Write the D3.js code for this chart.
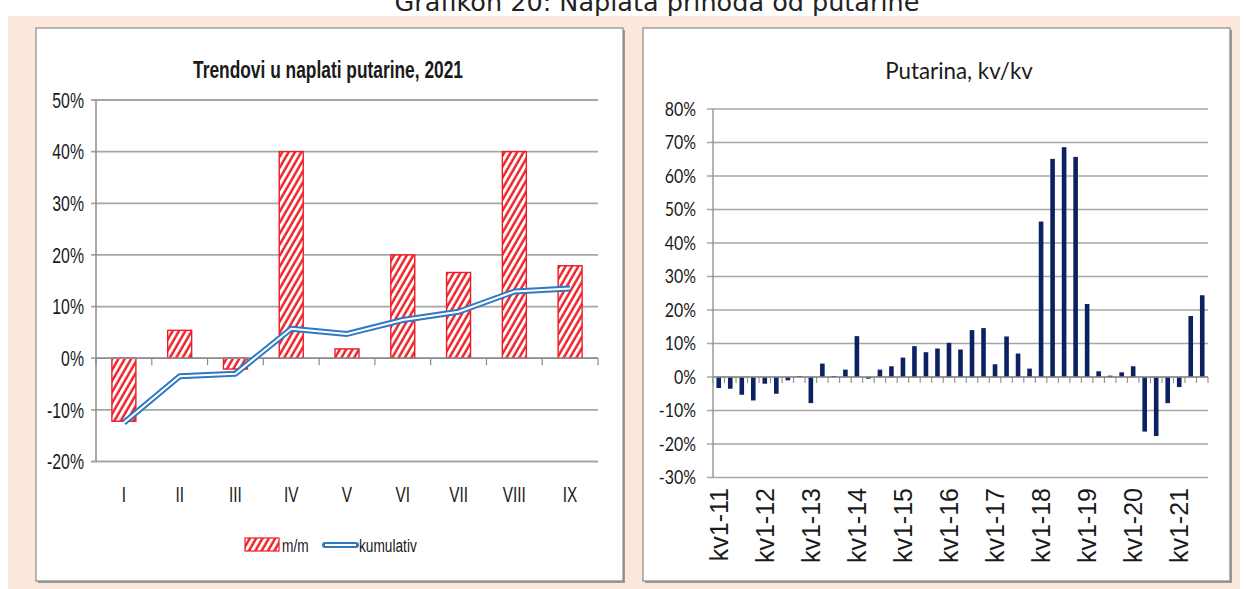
<!DOCTYPE html>
<html>
<head>
<meta charset="utf-8">
<script src="https://cdn.jsdelivr.net/npm/d3@7"></script>
<style>
  html, body { margin: 0; padding: 0; background: #ffffff; }
  svg { display: block; }
</style>
</head>
<body>
<svg id="chart" width="1246" height="589"></svg>
<script>
// ---------- DATA ----------
const mainTitle = "Grafikon 20: Naplata prihoda od putarine";

const leftTitle = "Trendovi u naplati putarine, 2021";
const months = ["I", "II", "III", "IV", "V", "VI", "VII", "VIII", "IX"];
const monthOnMonth = [-12.2, 5.4, -2.1, 40.0, 1.8, 20.0, 16.6, 40.0, 17.9];
const cumulative = [-12.5, -3.5, -3.0, 5.7, 4.7, 7.4, 9.0, 12.9, 13.5];
const leftTicks = [-20, -10, 0, 10, 20, 30, 40, 50];
const leftLegend = ["m/m", "kumulativ"];

const rightTitle = "Putarina, kv/kv";
const quarters = [
  "kv1-11","kv2-11","kv3-11","kv4-11",
  "kv1-12","kv2-12","kv3-12","kv4-12",
  "kv1-13","kv2-13","kv3-13","kv4-13",
  "kv1-14","kv2-14","kv3-14","kv4-14",
  "kv1-15","kv2-15","kv3-15","kv4-15",
  "kv1-16","kv2-16","kv3-16","kv4-16",
  "kv1-17","kv2-17","kv3-17","kv4-17",
  "kv1-18","kv2-18","kv3-18","kv4-18",
  "kv1-19","kv2-19","kv3-19","kv4-19",
  "kv1-20","kv2-20","kv3-20","kv4-20",
  "kv1-21","kv2-21","kv3-21"
];
const quarterValues = [
  -3.3, -3.5, -5.3, -7.0,
  -2.0, -5.0, -1.0, 0.3,
  -7.8, 4.0, 0.3, 2.2,
  12.2, -0.5, 2.2, 3.2,
  5.8, 9.2, 7.4, 8.5,
  10.2, 8.2, 14.0, 14.6,
  3.8, 12.1, 7.0, 2.5,
  46.4, 65.1, 68.6, 65.7,
  21.8, 1.7, 0.4, 1.4,
  3.2, -16.3, -17.6, -7.8,
  -3.0, 18.2, 24.4
];
const rightTickLabels = ["kv1-11","kv1-12","kv1-13","kv1-14","kv1-15","kv1-16","kv1-17","kv1-18","kv1-19","kv1-20","kv1-21"];
const rightTicks = [-30, -20, -10, 0, 10, 20, 30, 40, 50, 60, 70, 80];

// ---------- STYLE ----------
const peach = "#fce8da";
const gridColor = "#a6a6a6";
const axisColor = "#8c8c8c";
const textColor = "#1a1a1a";
const red = "#ee1c24";
const blue = "#2f78c4";
const navy = "#0b2160";
const sans = "'Liberation Sans', Arial, sans-serif";
const humanist = "Lato, 'Open Sans', sans-serif";

const svg = d3.select("#chart");

// condensed text helper (narrow look via horizontal scaling)
function ctext(g, x, y, str, opts) {
  return g.append("text")
    .attr("transform", `translate(${x},${y}) scale(${opts.sx || 1},1)`)
    .attr("dy", opts.dy || "0.35em")
    .attr("text-anchor", opts.anchor || "start")
    .attr("font-family", opts.family || sans)
    .attr("font-size", opts.size)
    .attr("font-weight", opts.weight || "normal")
    .attr("fill", textColor)
    .text(str);
}

// background
svg.append("rect").attr("x", 0).attr("y", 0).attr("width", 1246).attr("height", 589).attr("fill", "#ffffff");
svg.append("rect").attr("x", 8).attr("y", 16).attr("width", 1232).attr("height", 573).attr("fill", peach);

// main title (partly cut at top like the reference)
svg.append("text")
  .attr("x", 657).attr("y", 11)
  .attr("text-anchor", "middle")
  .attr("font-family", "'DejaVu Sans', Verdana, sans-serif")
  .attr("font-size", 25.5)
  .attr("fill", "#222")
  .text(mainTitle);

// hatch pattern
const defs = svg.append("defs");
const pat = defs.append("pattern")
  .attr("id", "hatch")
  .attr("patternUnits", "userSpaceOnUse")
  .attr("width", 5.5).attr("height", 10)
  .attr("patternTransform", "rotate(30)");
pat.append("rect").attr("width", 5.5).attr("height", 10).attr("fill", "#ffffff");
pat.append("line").attr("x1", 1.5).attr("y1", 0).attr("x2", 1.5).attr("y2", 10)
  .attr("stroke", red).attr("stroke-width", 2.4);

function panel(x, y, w, h) {
  svg.append("rect").attr("x", x + 2).attr("y", y + 2).attr("width", w).attr("height", h).attr("fill", "#9a9a9a");
  svg.append("rect").attr("x", x).attr("y", y).attr("width", w).attr("height", h)
    .attr("fill", "#ffffff").attr("stroke", "#8a8a8a").attr("stroke-width", 1.2);
}

// ================= LEFT CHART =================
panel(36, 28, 587, 553);

const lx = d3.scaleBand().domain(months).range([96, 598]).paddingInner(0.57).paddingOuter(0.285);
const ly = d3.scaleLinear().domain([-20, 50]).range([461.5, 100]);
const lg = svg.append("g");

lg.append("text")
  .attr("x", 328).attr("y", 78)
  .attr("text-anchor", "middle")
  .attr("font-family", sans).attr("font-weight", "bold")
  .attr("font-size", 23.5).attr("fill", textColor)
  .attr("textLength", 270).attr("lengthAdjust", "spacingAndGlyphs")
  .text(leftTitle);

// gridlines
lg.selectAll(".lgrid").data(leftTicks).join("line")
  .attr("x1", 91).attr("x2", 598)
  .attr("y1", d => ly(d)).attr("y2", d => ly(d))
  .attr("stroke", gridColor).attr("stroke-width", 1.8);

// y axis line
lg.append("line").attr("x1", 96).attr("x2", 96).attr("y1", ly(50)).attr("y2", ly(-20))
  .attr("stroke", axisColor).attr("stroke-width", 1.5);

// y labels
leftTicks.forEach(d => ctext(lg, 84, ly(d), d + "%", { anchor: "end", size: 22, sx: 0.72 }));

// bars
lg.selectAll(".lbar").data(monthOnMonth).join("rect")
  .attr("x", (d, i) => lx(months[i]))
  .attr("width", lx.bandwidth())
  .attr("y", d => ly(Math.max(0, d)))
  .attr("height", d => Math.abs(ly(d) - ly(0)))
  .attr("fill", "url(#hatch)")
  .attr("stroke", red).attr("stroke-width", 1.4);

// x axis line at 0 with ticks at category boundaries
lg.append("line").attr("x1", 96).attr("x2", 598).attr("y1", ly(0)).attr("y2", ly(0))
  .attr("stroke", axisColor).attr("stroke-width", 1.5);
const lstep = lx.step();
lg.selectAll(".ltick").data(d3.range(months.length + 1)).join("line")
  .attr("x1", i => 96 + i * lstep).attr("x2", i => 96 + i * lstep)
  .attr("y1", ly(0)).attr("y2", ly(0) + 7)
  .attr("stroke", axisColor).attr("stroke-width", 1.2);

// category labels
months.forEach(d => ctext(lg, lx(d) + lx.bandwidth() / 2, 494, d, { anchor: "middle", size: 22, sx: 0.7 }));

// cumulative line (double line)
const line = d3.line()
  .x((d, i) => lx(months[i]) + lx.bandwidth() / 2)
  .y(d => ly(d));
lg.append("path").attr("d", line(cumulative)).attr("fill", "none")
  .attr("stroke", blue).attr("stroke-width", 6).attr("stroke-linejoin", "round");
lg.append("path").attr("d", line(cumulative)).attr("fill", "none")
  .attr("stroke", "#ffffff").attr("stroke-width", 2).attr("stroke-linejoin", "round");

// legend
const legY = 545;
lg.append("rect").attr("x", 245).attr("y", legY - 7).attr("width", 34).attr("height", 13)
  .attr("fill", "url(#hatch)").attr("stroke", red).attr("stroke-width", 1.2);
ctext(lg, 282, legY, leftLegend[0], { size: 19, sx: 0.72 });
lg.append("line").attr("x1", 325).attr("x2", 356).attr("y1", legY).attr("y2", legY)
  .attr("stroke", blue).attr("stroke-width", 6).attr("stroke-linecap", "round");
lg.append("line").attr("x1", 325).attr("x2", 356).attr("y1", legY).attr("y2", legY)
  .attr("stroke", "#ffffff").attr("stroke-width", 2);
ctext(lg, 359, legY, leftLegend[1], { size: 19, sx: 0.72 });

// ================= RIGHT CHART =================
panel(643, 28, 587, 553);

const rx = d3.scaleBand().domain(quarters).range([713, 1208]).paddingInner(0.6).paddingOuter(0.3);
const ry = d3.scaleLinear().domain([-30, 80]).range([477.5, 109]);
const rg = svg.append("g");

ctext(rg, 959, 71, rightTitle, { anchor: "middle", family: humanist, size: 24, sx: 0.93 });

rg.selectAll(".rgrid").data(rightTicks).join("line")
  .attr("x1", 707).attr("x2", 1208)
  .attr("y1", d => ry(d)).attr("y2", d => ry(d))
  .attr("stroke", gridColor).attr("stroke-width", 1.5);

rg.append("line").attr("x1", 713).attr("x2", 713).attr("y1", ry(80)).attr("y2", ry(-30))
  .attr("stroke", axisColor).attr("stroke-width", 1.3);

rightTicks.forEach(d => ctext(rg, 696, ry(d), d + "%", { anchor: "end", family: humanist, size: 19, sx: 0.84 }));

rg.selectAll(".rbar").data(quarterValues).join("rect")
  .attr("x", (d, i) => rx(quarters[i]))
  .attr("width", rx.bandwidth())
  .attr("y", d => ry(Math.max(0, d)))
  .attr("height", d => Math.max(0.8, Math.abs(ry(d) - ry(0))))
  .attr("fill", navy);

rg.append("line").attr("x1", 713).attr("x2", 1208).attr("y1", ry(0)).attr("y2", ry(0))
  .attr("stroke", axisColor).attr("stroke-width", 1.3);
const rstep = rx.step();
rg.selectAll(".rtick").data(d3.range(quarters.length + 1)).join("line")
  .attr("x1", i => 713 + i * rstep).attr("x2", i => 713 + i * rstep)
  .attr("y1", ry(0)).attr("y2", ry(0) + 6)
  .attr("stroke", axisColor).attr("stroke-width", 1.1);

rg.selectAll(".rxl").data(rightTickLabels).join("text")
  .attr("transform", d => `translate(${rx(d) + rx.bandwidth() / 2},488) rotate(-90)`)
  .attr("dy", "0.36em")
  .attr("text-anchor", "end")
  .attr("font-family", sans)
  .attr("font-size", 25).attr("fill", textColor)
  .text(d => d);
</script>
</body>
</html>
